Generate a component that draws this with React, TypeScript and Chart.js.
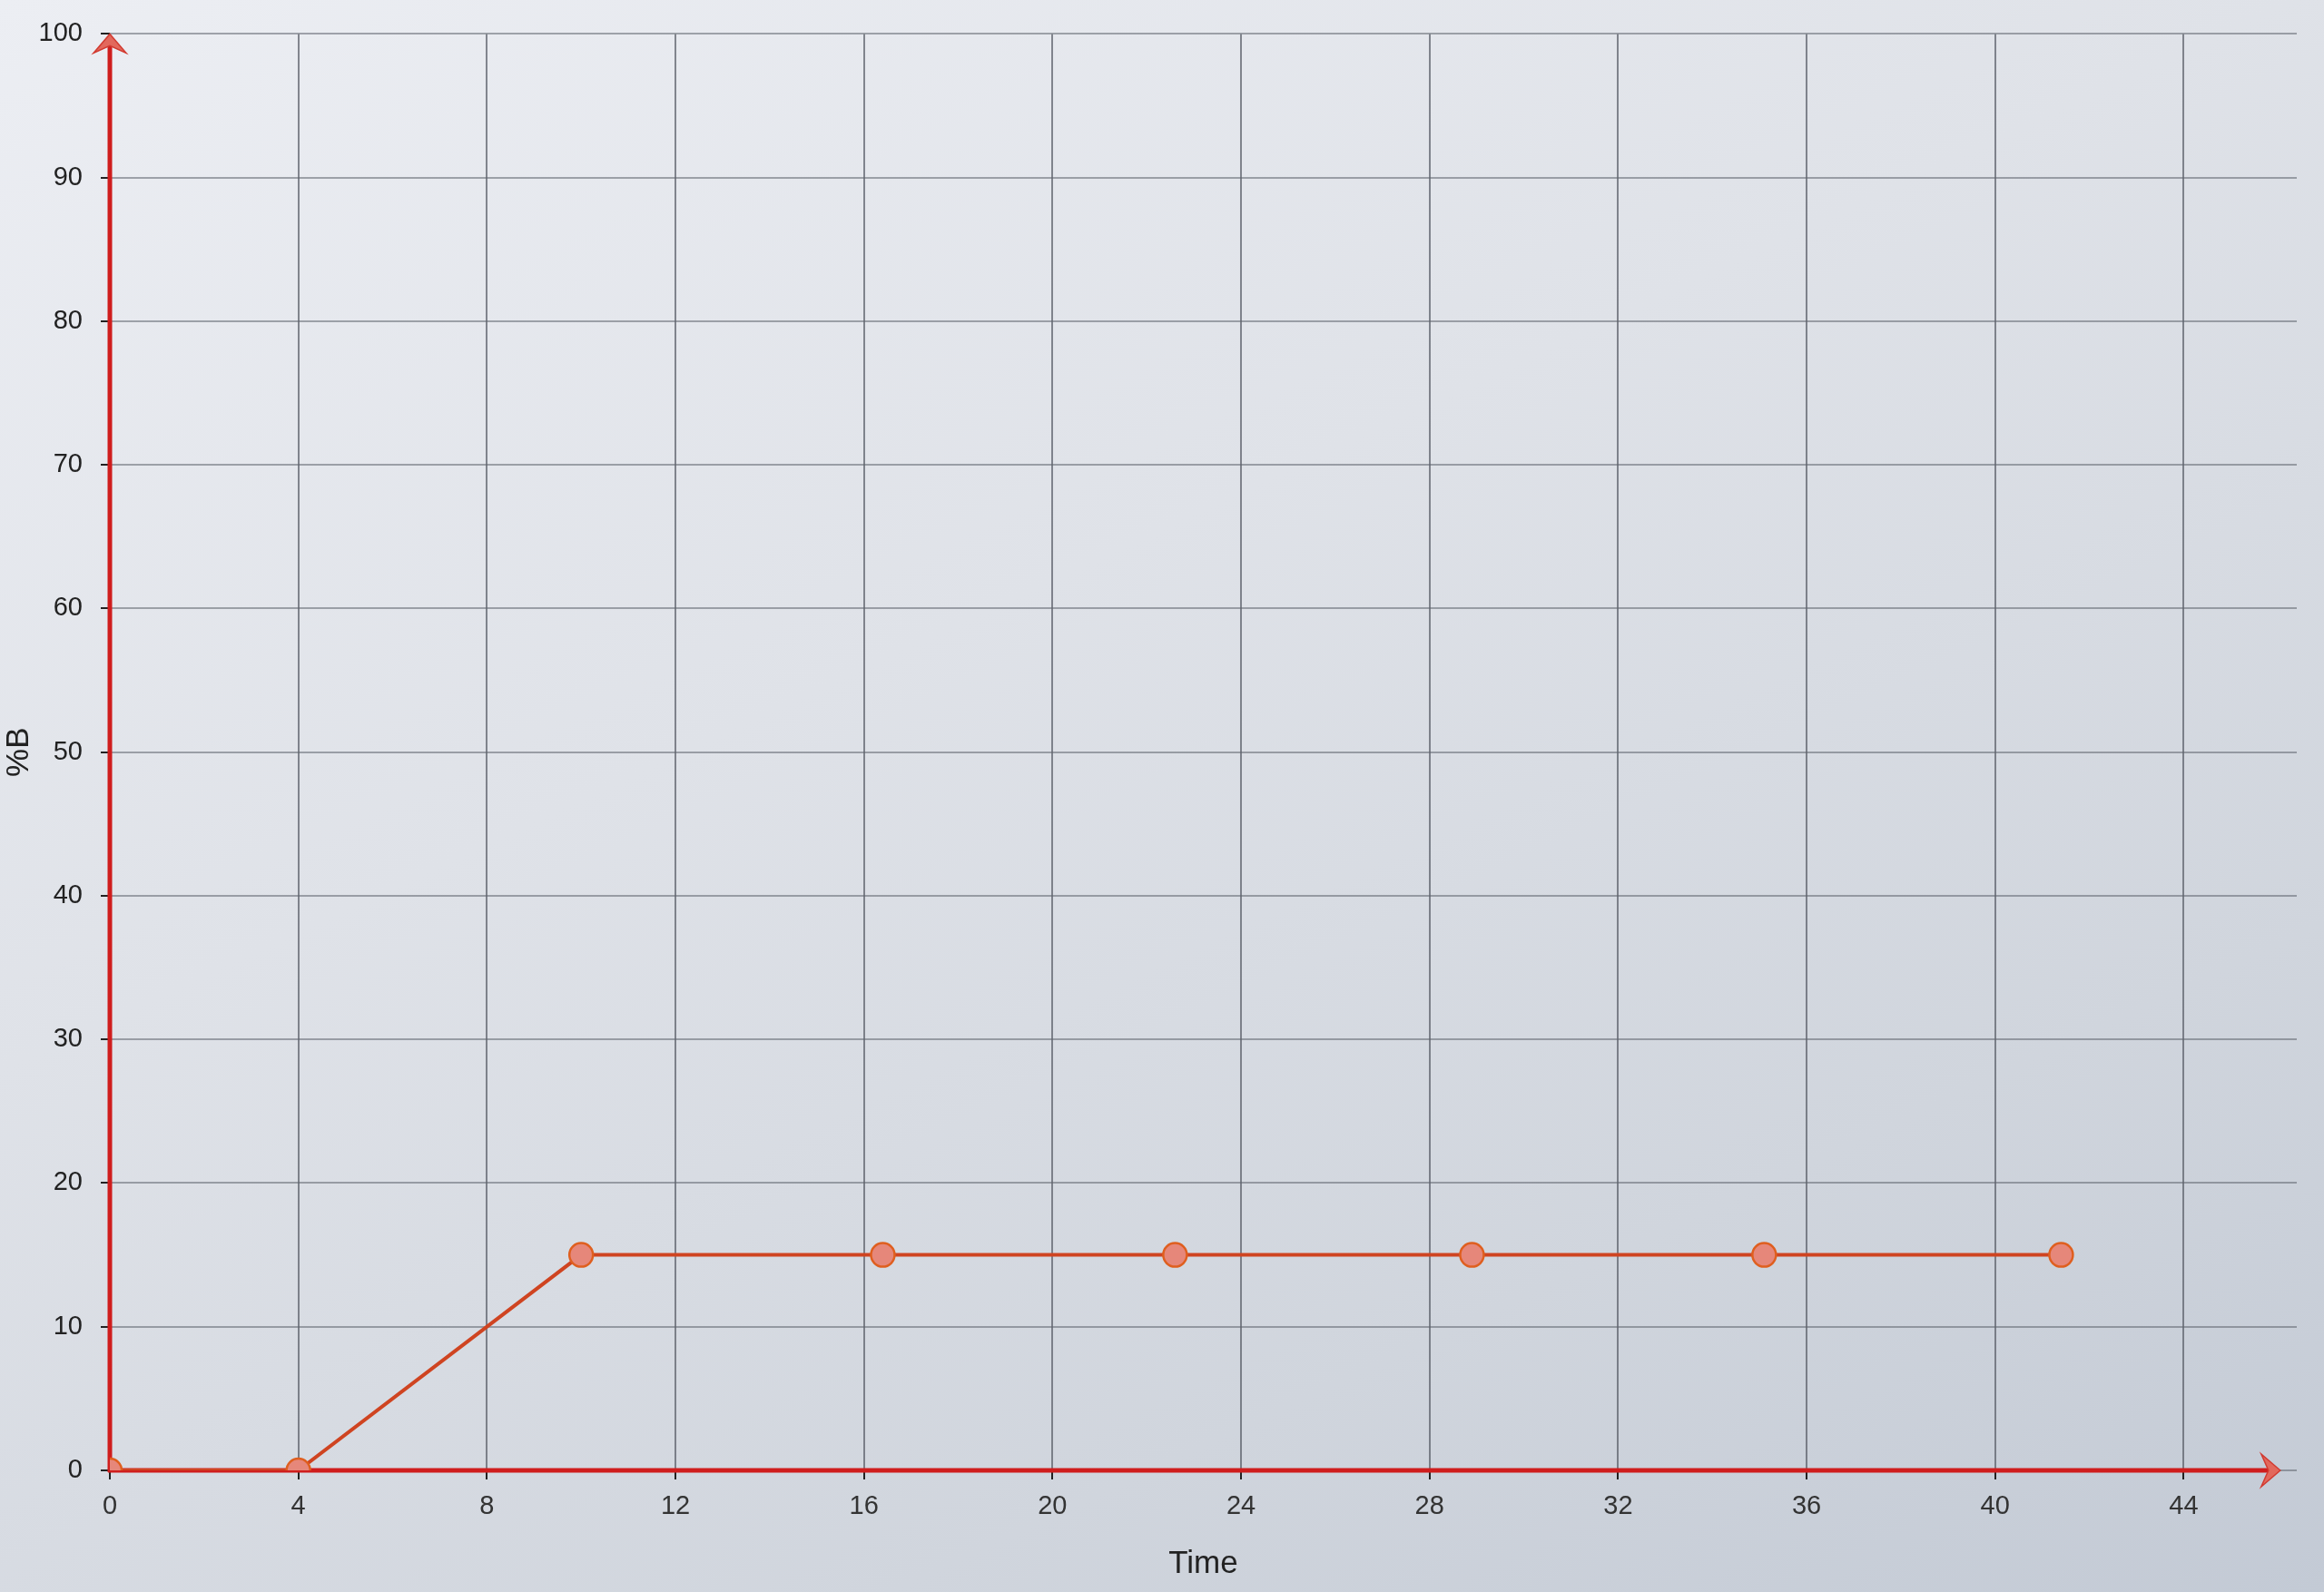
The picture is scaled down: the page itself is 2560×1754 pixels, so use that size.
import { useEffect, useRef } from 'react';
import { Chart, registerables } from 'chart.js';
import type { Plugin } from 'chart.js';

Chart.register(...registerables);

// gradient programme: time (min) vs %B
const times = [0, 4, 10, 16.4, 22.6, 28.9, 35.1, 41.4];
const percentB = [0, 0, 15, 15, 15, 15, 15, 15];
const xTickStep = 4;
const yTickStep = 10;

const X_MAX = 46.4;
const X_ARROW_END = 46.05;
const Y_MAX = 100;

const FONT = "'Liberation Sans', Arial, sans-serif";

// red axis lines with arrow heads, drawn under the data
const axisArrows: Plugin<'line'> = {
  id: 'axisArrows',
  beforeDatasetsDraw(chart) {
    const { ctx } = chart;
    const x = chart.scales.x;
    const y = chart.scales.y;
    const x0 = x.getPixelForValue(0);
    const y0 = y.getPixelForValue(0);
    const xEnd = x.getPixelForValue(X_ARROW_END);
    const yEnd = y.getPixelForValue(Y_MAX);
    ctx.save();
    ctx.strokeStyle = '#cf1d1d';
    ctx.lineWidth = 5;
    ctx.beginPath();
    ctx.moveTo(x0, y0 + 2);
    ctx.lineTo(x0, yEnd + 10);
    ctx.moveTo(x0 - 2, y0);
    ctx.lineTo(xEnd - 10, y0);
    ctx.stroke();

    ctx.fillStyle = '#e2685c';
    ctx.strokeStyle = '#d23a30';
    ctx.lineWidth = 1.5;
    // up arrow
    ctx.beginPath();
    ctx.moveTo(x0, yEnd);
    ctx.lineTo(x0 + 18, yEnd + 21);
    ctx.lineTo(x0, yEnd + 13);
    ctx.lineTo(x0 - 18, yEnd + 21);
    ctx.closePath();
    ctx.fill();
    ctx.stroke();
    // right arrow
    ctx.beginPath();
    ctx.moveTo(xEnd, y0);
    ctx.lineTo(xEnd - 21, y0 - 18);
    ctx.lineTo(xEnd - 13, y0);
    ctx.lineTo(xEnd - 21, y0 + 18);
    ctx.closePath();
    ctx.fill();
    ctx.stroke();
    ctx.restore();
  },
};

export default function App() {
  const canvasRef = useRef<HTMLCanvasElement>(null);

  useEffect(() => {
    document.body.style.margin = '0';
    document.body.style.overflow = 'hidden';
    if (!canvasRef.current) return;
    const ctx = canvasRef.current.getContext('2d');
    if (!ctx) return;

    const chart = new Chart(ctx, {
      type: 'line',
      data: {
        datasets: [{
          data: times.map((t, i) => ({ x: t, y: percentB[i] })),
          borderColor: '#cf4421',
          borderWidth: 4,
          tension: 0,
          pointRadius: 13,
          pointBorderWidth: 2.5,
          pointBackgroundColor: '#e6877a',
          pointBorderColor: '#df5f1f',
        }],
      },
      options: {
        animation: false,
        responsive: false,
        devicePixelRatio: 1,
        layout: { padding: { top: 33, right: 30, left: 0, bottom: 0 } },
        plugins: { legend: { display: false }, tooltip: { enabled: false } },
        scales: {
          x: {
            type: 'linear',
            min: 0,
            max: X_MAX,
            afterFit: (scale) => { scale.height = 134; },
            border: { display: false },
            grid: {
              color: 'rgba(85,90,100,0.7)',
              lineWidth: 2,
              tickColor: '#222',
              tickWidth: 2,
              tickLength: 10,
            },
            ticks: {
              stepSize: xTickStep,
              includeBounds: false,
              padding: 13,
              color: '#333',
              font: { family: FONT, size: 29 },
            },
            title: {
              display: true,
              text: 'Time',
              color: '#222',
              padding: { top: 0, bottom: 10 },
              font: { family: FONT, size: 35 },
            },
          },
          y: {
            type: 'linear',
            min: 0,
            max: Y_MAX,
            afterFit: (scale) => { scale.width = 121; },
            border: { display: false },
            grid: {
              color: 'rgba(95,100,110,0.55)',
              lineWidth: 2,
              tickColor: '#222',
              tickWidth: 2,
              tickLength: 10,
            },
            ticks: {
              stepSize: yTickStep,
              padding: 20,
              color: '#222',
              font: { family: FONT, size: 29 },
            },
            title: {
              display: true,
              text: '%B',
              color: '#222',
              padding: 0,
              font: { family: FONT, size: 35 },
            },
          },
        },
      },
      plugins: [axisArrows],
    });

    return () => chart.destroy();
  }, []);

  return (
    <div
      style={{
        width: 2560,
        height: 1754,
        background: 'linear-gradient(155deg, #eceef3 0%, #dfe2e8 40%, #d0d5dd 75%, #c3cad5 100%)',
      }}
    >
      <canvas ref={canvasRef} width={2560} height={1754} style={{ display: 'block' }} />
    </div>
  );
}
